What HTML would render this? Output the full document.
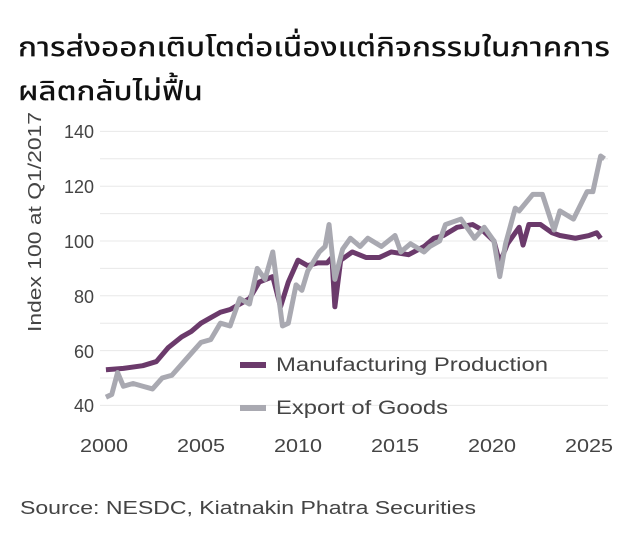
<!DOCTYPE html>
<html><head><meta charset="utf-8"><style>
body{margin:0;background:#fff;width:640px;height:546px;overflow:hidden;font-family:"Liberation Sans","DejaVu Sans",sans-serif;}
</style></head><body>
<svg width="640" height="546" style="position:absolute;left:0;top:0" font-family="Liberation Sans, DejaVu Sans, sans-serif">
<g fill="#111" font-size="27" font-weight="500" font-family="Noto Sans Thai, Loma, Garuda, Liberation Sans, sans-serif">
<text x="18" y="56" textLength="592" lengthAdjust="spacingAndGlyphs">การส่งออกเติบโตต่อเนื่องแต่กิจกรรมในภาคการ</text>
<text x="18" y="100" textLength="185" lengthAdjust="spacingAndGlyphs">ผลิตกลับไม่ฟื้น</text>
</g>
<g stroke="#e8e8e8" stroke-width="1">
<line x1="100" x2="608" y1="131.4" y2="131.4"/><line x1="100" x2="608" y1="158.8" y2="158.8"/>
<line x1="100" x2="608" y1="186.2" y2="186.2"/><line x1="100" x2="608" y1="213.6" y2="213.6"/>
<line x1="100" x2="608" y1="241" y2="241"/><line x1="100" x2="608" y1="268.4" y2="268.4"/>
<line x1="100" x2="608" y1="295.8" y2="295.8"/><line x1="100" x2="608" y1="323.2" y2="323.2"/>
<line x1="100" x2="608" y1="350.6" y2="350.6"/><line x1="100" x2="608" y1="378" y2="378"/>
<line x1="100" x2="608" y1="405.4" y2="405.4"/>
</g>
<g fill="#444" font-size="18" text-anchor="end">
<text x="94" y="138">140</text><text x="94" y="193">120</text><text x="94" y="248">100</text>
<text x="94" y="303">80</text><text x="94" y="358">60</text><text x="94" y="412">40</text>
</g>
<g fill="#444" font-size="18">
<text x="80" y="452" textLength="48" lengthAdjust="spacingAndGlyphs">2000</text>
<text x="177" y="452" textLength="48" lengthAdjust="spacingAndGlyphs">2005</text>
<text x="274" y="452" textLength="48" lengthAdjust="spacingAndGlyphs">2010</text>
<text x="371" y="452" textLength="48" lengthAdjust="spacingAndGlyphs">2015</text>
<text x="468" y="452" textLength="48" lengthAdjust="spacingAndGlyphs">2020</text>
<text x="565" y="452" textLength="48" lengthAdjust="spacingAndGlyphs">2025</text>
</g>
<text transform="translate(41,332) rotate(-90)" fill="#444" font-size="18" textLength="220" lengthAdjust="spacingAndGlyphs">Index 100 at Q1/2017</text>
<g transform="translate(104,241) scale(19.4,-2.74) translate(-2000,-100)" fill="none" stroke-linejoin="round">
<polyline vector-effect="non-scaling-stroke" stroke="#6b3a6b" stroke-width="5" points="2000.1,53 2001,53.5 2002,54.5 2002.7,56 2003.3,61 2004,65 2004.5,67 2005,70 2005.5,72 2006,74 2006.5,75 2007,77 2007.5,79 2008,85 2008.7,87 2009.1,76 2009.5,85 2010,93 2010.5,91 2011,92 2011.5,92 2011.75,94 2011.9,76 2012.2,93 2012.8,96 2013.5,94 2014.2,94 2014.8,96 2015.7,95 2016.5,98 2017,101 2017.5,102 2018.2,105 2019,106 2019.5,104 2020.1,100 2020.4,92 2020.8,99 2021.4,105 2021.6,98.5 2021.9,106 2022.5,106 2023.1,103 2023.5,102 2024.3,101 2025,102 2025.4,103 2025.6,101"/>
<polyline vector-effect="non-scaling-stroke" stroke="#a9a9b1" stroke-width="5" points="2000.1,43 2000.4,44 2000.7,52 2001,47 2001.5,48 2002,47 2002.5,46 2003,50 2003.5,51 2004,55 2004.5,59 2005,63 2005.5,64 2006,70 2006.5,69 2007,79 2007.5,77 2007.9,90 2008.3,86 2008.7,96 2009.2,69 2009.5,70 2009.9,84 2010.2,82 2010.5,89 2011.1,96 2011.4,98 2011.6,106 2011.9,86 2012.3,97 2012.7,101 2013.2,98 2013.6,101 2014.3,98 2015,102 2015.3,96 2015.8,99 2016.5,96 2016.8,98 2017.3,100 2017.6,106 2018.4,108 2019.1,101 2019.6,105 2020.1,100 2020.4,87 2020.7,99 2021.2,112 2021.4,111 2022.1,117 2022.6,117 2023.2,104 2023.5,111 2024.2,108 2024.9,118 2025.2,118 2025.6,131 2025.8,130"/>
</g>
<line x1="240" x2="266" y1="365" y2="365" stroke="#6b3a6b" stroke-width="6"/>
<line x1="240" x2="266" y1="408" y2="408" stroke="#a9a9b1" stroke-width="6"/>
<text x="276" y="371" fill="#444" font-size="19" textLength="272" lengthAdjust="spacingAndGlyphs">Manufacturing Production</text>
<text x="276" y="414" fill="#444" font-size="19" textLength="172" lengthAdjust="spacingAndGlyphs">Export of Goods</text>
<text x="20" y="514" fill="#444" font-size="18" textLength="456" lengthAdjust="spacingAndGlyphs">Source: NESDC, Kiatnakin Phatra Securities</text>
</svg>
</body></html>
